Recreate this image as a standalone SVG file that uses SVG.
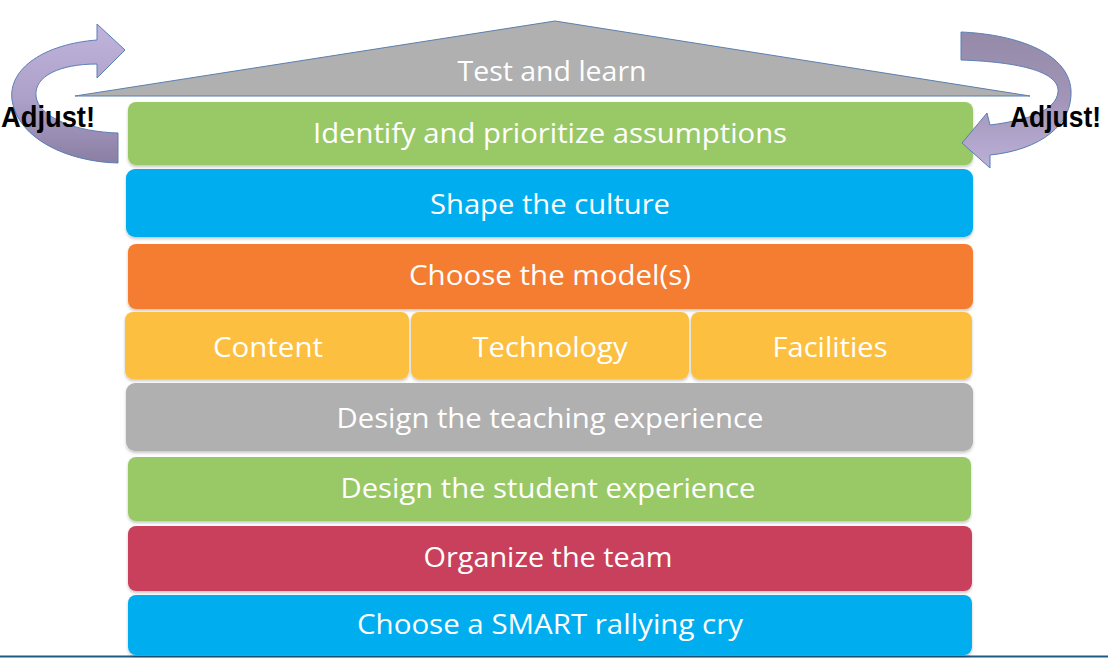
<svg xmlns="http://www.w3.org/2000/svg" width="1108" height="658" viewBox="0 0 1108 658">
<style>
.lbl{font-family:"Open Sans","Noto Sans","Liberation Sans",sans-serif;font-size:28px;fill:#ffffff;text-anchor:middle}
.adj{font-family:"Liberation Sans","DejaVu Sans",sans-serif;font-size:29px;font-weight:bold;fill:#000000}
.bar{filter:url(#sh)}
</style>
<defs>
<filter id="sh" x="-5%" y="-20%" width="110%" height="150%">
<feDropShadow dx="0" dy="2" stdDeviation="1.5" flood-color="#000" flood-opacity="0.22"/>
</filter>
<linearGradient id="gl" x1="0" y1="0" x2="0" y2="1">
<stop offset="0" stop-color="#c0b3dc"/>
<stop offset="0.55" stop-color="#ada0c8"/>
<stop offset="1" stop-color="#8a7ea3"/>
</linearGradient>
<linearGradient id="gr" x1="0" y1="0" x2="0" y2="1">
<stop offset="0" stop-color="#958aa8"/>
<stop offset="0.5" stop-color="#a295b8"/>
<stop offset="1" stop-color="#bcb0d8"/>
</linearGradient>
</defs>
<rect width="1108" height="658" fill="#ffffff"/>
<line x1="0" y1="656.5" x2="1108" y2="656.5" stroke="#1f5a85" stroke-width="2"/>

<g id="roof">
<polygon points="75,96 555,21 1030,96" fill="#b0b0b0" stroke="#5b7fae" stroke-width="1"/>
<text class="lbl" x="552" y="81" textLength="189" lengthAdjust="spacingAndGlyphs">Test and learn</text>
</g>

<g id="assumptions">
<rect class="bar" x="128" y="102" width="845" height="63" rx="8" fill="#99c966"/>
<text class="lbl" x="550" y="143" textLength="474" lengthAdjust="spacingAndGlyphs">Identify and prioritize assumptions</text>
</g>
<g id="culture">
<rect class="bar" x="126" y="169" width="847" height="68" rx="9" fill="#00aeef"/>
<text class="lbl" x="550" y="214" textLength="240" lengthAdjust="spacingAndGlyphs">Shape the culture</text>
</g>
<g id="model">
<rect class="bar" x="128" y="244" width="845" height="65" rx="8" fill="#f47d30"/>
<text class="lbl" x="550" y="285" textLength="282" lengthAdjust="spacingAndGlyphs">Choose the model(s)</text>
</g>
<g id="content">
<rect class="bar" x="125" y="312" width="284" height="67" rx="8" fill="#fdbf41"/>
<text class="lbl" x="268" y="357" textLength="110" lengthAdjust="spacingAndGlyphs" fill="#fff8e0">Content</text>
</g>
<g id="technology">
<rect class="bar" x="411" y="312" width="278" height="67" rx="8" fill="#fdbf41"/>
<text class="lbl" x="550" y="357" textLength="155" lengthAdjust="spacingAndGlyphs">Technology</text>
</g>
<g id="facilities">
<rect class="bar" x="691" y="312" width="281" height="67" rx="8" fill="#fdbf41"/>
<text class="lbl" x="830" y="357" textLength="115" lengthAdjust="spacingAndGlyphs">Facilities</text>
</g>
<g id="teaching">
<rect class="bar" x="126" y="383" width="847" height="68" rx="9" fill="#b0b0b0"/>
<text class="lbl" x="550" y="428" textLength="427" lengthAdjust="spacingAndGlyphs">Design the teaching experience</text>
</g>
<g id="student">
<rect class="bar" x="128" y="457" width="843" height="64" rx="8" fill="#99c966"/>
<text class="lbl" x="548" y="498" textLength="415" lengthAdjust="spacingAndGlyphs">Design the student experience</text>
</g>
<g id="team">
<rect class="bar" x="128" y="526" width="844" height="65" rx="8" fill="#c9405c"/>
<text class="lbl" x="548" y="567" textLength="249" lengthAdjust="spacingAndGlyphs">Organize the team</text>
</g>
<g id="rally">
<rect class="bar" x="128" y="595" width="844" height="60" rx="8" fill="#00aeef"/>
<text class="lbl" x="550" y="634" textLength="386" lengthAdjust="spacingAndGlyphs">Choose a SMART rallying cry</text>
</g>

<g id="connectors">
<path id="arrow-left" d="M118,163 C70,162 18,140 12,100 C8,68 45,44 97,40 L97,24 L125,50 L97,78 L97,64 C60,64 34,76 36,96 C38,118 78,132 118,133 Z" fill="url(#gl)" stroke="#5a7fb5" stroke-width="1"/>
<path id="arrow-right" d="M961,32 C1010,34 1068,50 1071,90 C1073,125 1040,150 990,155 L990,168 L962,143 L987,113 L990,125 C1030,120 1056,110 1058,92 C1060,72 1020,62 961,60 Z" fill="url(#gr)" stroke="#5a7fb5" stroke-width="1"/>
</g>

<g id="adjust-left"><text class="adj" x="1" y="127" textLength="94" lengthAdjust="spacingAndGlyphs">Adjust!</text></g>
<g id="adjust-right"><text class="adj" x="1010" y="127" textLength="91" lengthAdjust="spacingAndGlyphs">Adjust!</text></g>
</svg>
